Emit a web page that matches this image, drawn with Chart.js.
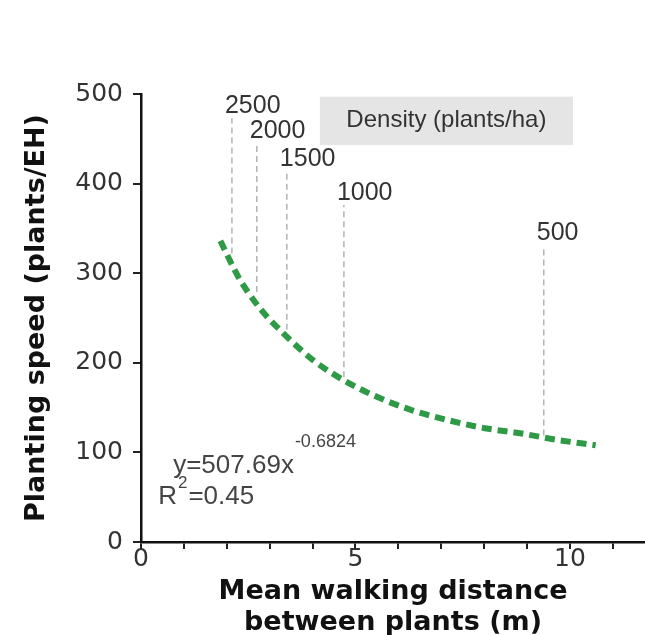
<!DOCTYPE html>
<html>
<head>
<meta charset="utf-8">
<script src="https://cdn.jsdelivr.net/npm/chart.js@4.4.1/dist/chart.umd.min.js"></script>
<style>
    body { margin: 0; background: #fff; }
    #wrap { width: 645px; height: 635px; position: relative; }
</style>
</head>
<body>
<div id="wrap"><canvas id="speedChart"></canvas></div>
<script>
// fitted curve
const curveX = [1.85, 2.28, 2.77, 3.36, 4.01, 4.71, 5.50, 6.32, 7.16, 8.02, 8.88, 9.70, 10.60];
const curveY = [336, 295, 261, 231, 203, 181, 162, 147, 136, 127, 121, 114, 108];

// density guide lines
const densityLabels = ['2500', '2000', '1500', '1000', '500'];
const densityX = [2.12, 2.70, 3.40, 4.73, 9.39];
const densityBottom = [322, 279, 237, 184, 119];
const densityTop = [473, 445, 414, 376, 331];

const yTicks = [0, 100, 200, 300, 400, 500];
const xTicks = [0, 1, 2, 3, 4, 5, 6, 7, 8, 9, 10, 11];
const xLabelled = [0, 5, 10];

const equationText = 'y=507.69x';
const equationExp = '-0.6824';
const r2Text = '=0.45';

const textColor = '#333';
const sans = "'Liberation Sans', Arial, sans-serif";

const densitySets = densityLabels.map((label, i) => ({
    label: label,
    data: [{ x: densityX[i], y: densityBottom[i] }, { x: densityX[i], y: densityTop[i] }],
    borderColor: '#b3b3b3',
    borderWidth: 1.5,
    borderDash: [6, 4],
    pointRadius: 0,
    order: 2
}));

// box, labels and equation
const annotations = {
    id: 'annotations',
    beforeDatasetsDraw(chart) {
        const { ctx, scales: { x, y } } = chart;
        ctx.save();
        ctx.fillStyle = '#e5e5e5';
        const bx = x.getPixelForValue(4.17), by = y.getPixelForValue(497);
        ctx.fillRect(bx, by, x.getPixelForValue(10.07) - bx, y.getPixelForValue(443) - by);
        ctx.fillStyle = textColor;
        ctx.font = '24px ' + sans;
        ctx.textAlign = 'center';
        ctx.textBaseline = 'middle';
        ctx.fillText('Density (plants/ha)', (bx + x.getPixelForValue(10.07)) / 2, by + 24);
        ctx.restore();
    },
    afterDatasetsDraw(chart) {
        const { ctx, scales: { x, y } } = chart;
        ctx.save();
        ctx.fillStyle = textColor;
        ctx.textBaseline = 'middle';
        ctx.textAlign = 'left';
        ctx.font = '25px ' + sans;
        densityLabels.forEach((label, i) => {
            ctx.fillText(label, x.getPixelForValue(densityX[i]) - 7, y.getPixelForValue(densityTop[i]) - 12);
        });

        // equation
        ctx.fillStyle = '#444';
        let ex = x.getPixelForValue(0.75), ey = y.getPixelForValue(85);
        ctx.font = '26px ' + sans;
        ctx.fillText(equationText, ex, ey);
        const w = ctx.measureText(equationText).width;
        ctx.font = '18px ' + sans;
        ctx.fillText(equationExp, ex + w + 1, ey - 24);

        let rx = x.getPixelForValue(0.4), ry = y.getPixelForValue(50);
        ctx.font = '26px ' + sans;
        ctx.fillText('R', rx, ry);
        const rw = ctx.measureText('R').width;
        ctx.font = '17px ' + sans;
        ctx.fillText('2', rx + rw + 1, ry - 14);
        const sw = ctx.measureText('2').width;
        ctx.font = '26px ' + sans;
        ctx.fillText(r2Text, rx + rw + sw + 2, ry);
        ctx.restore();
    }
};

new Chart(document.getElementById('speedChart'), {
    type: 'line',
    data: {
        datasets: [
            {
                label: 'Planting speed',
                data: curveX.map((v, i) => ({ x: v, y: curveY[i] })),
                borderColor: '#2f9a46',
                borderWidth: 6,
                borderDash: [10, 6],
                cubicInterpolationMode: 'monotone',
                pointRadius: 0,
                order: 1
            },
            ...densitySets
        ]
    },
    options: {
        responsive: true,
        maintainAspectRatio: false,
        animation: false,
        layout: { padding: { top: 94, right: 0, bottom: 0, left: 0 } },
        plugins: {
            legend: { display: false },
            tooltip: { enabled: false }
        },
        scales: {
            x: {
                type: 'linear',
                min: 0,
                max: 11.75,
                afterBuildTicks: scale => { scale.ticks = xTicks.map(v => ({ value: v })); },
                afterFit: scale => { scale.height = 93; },
                ticks: {
                    autoSkip: false,
                    maxRotation: 0,
                    padding: -2,
                    color: textColor,
                    font: { family: "'DejaVu Sans'", size: 25, lineHeight: 1 },
                    callback: v => xLabelled.includes(v) ? String(v) : ''
                },
                grid: { drawOnChartArea: false, tickLength: 7, lineWidth: 2, color: '#222' },
                border: { color: '#111', width: 2.5 },
                title: {
                    display: true,
                    text: ['Mean walking distance', 'between plants (m)'],
                    color: '#111',
                    font: { family: "'DejaVu Sans'", size: 27, weight: 'bold', lineHeight: 1.15 },
                    padding: { top: 0, bottom: -4 }
                }
            },
            y: {
                min: 0,
                max: 500,
                afterBuildTicks: scale => { scale.ticks = yTicks.map(v => ({ value: v })); },
                afterFit: scale => { scale.width = 141; },
                ticks: {
                    padding: 10,
                    color: textColor,
                    font: { family: "'DejaVu Sans'", size: 25 }
                },
                grid: { drawOnChartArea: false, tickLength: 8, lineWidth: 2, color: '#222' },
                border: { color: '#111', width: 2.5 },
                title: {
                    display: true,
                    text: 'Planting speed (plants/EH)',
                    color: '#111',
                    font: { family: "'DejaVu Sans'", size: 27, weight: 'bold', lineHeight: 1.2 },
                    padding: { top: 21, bottom: 0 }
                }
            }
        }
    },
    plugins: [annotations]
});
</script>
</body>
</html>
